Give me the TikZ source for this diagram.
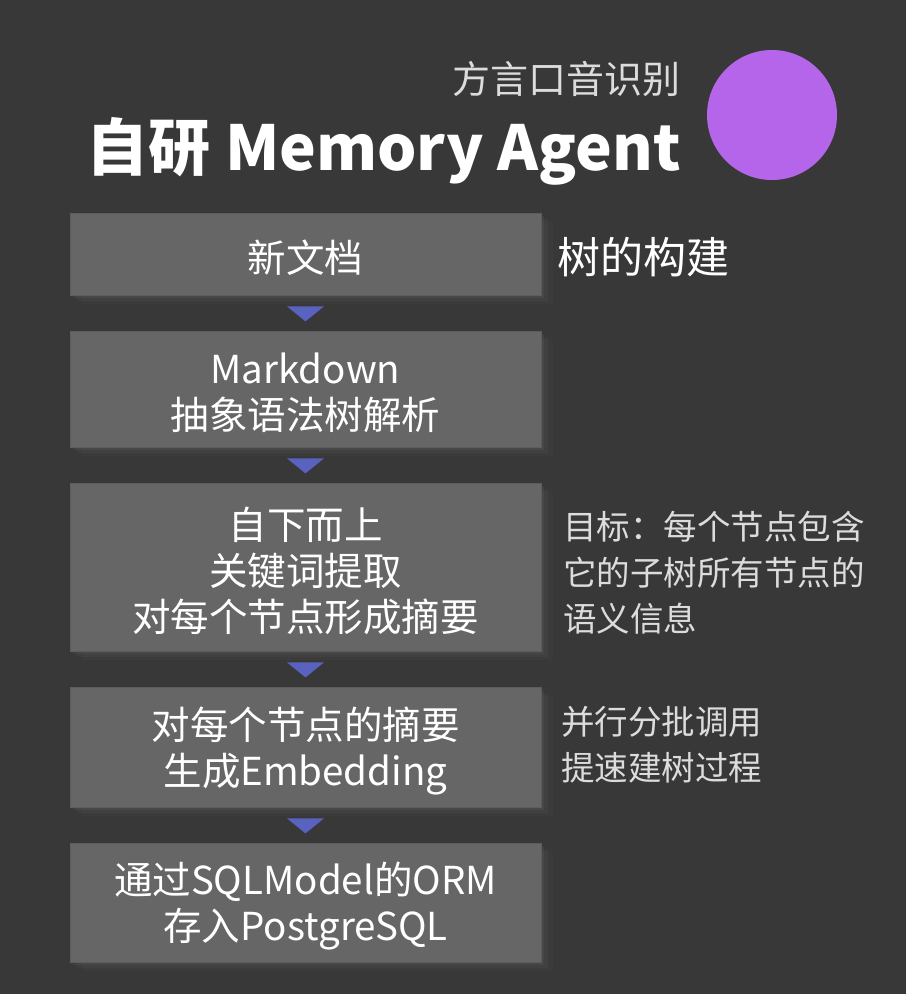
\documentclass[tikz,border=0pt]{standalone}
\usepackage{fontspec}
\setmainfont{Noto Sans CJK SC}
\usepackage{tikz}
\usetikzlibrary{shadows}
\definecolor{bgcol}{HTML}{383838}
\definecolor{boxcol}{HTML}{666666}
\definecolor{boxedge}{HTML}{5C5C5C}
\definecolor{tricol}{HTML}{5A62C0}
\definecolor{dotcol}{HTML}{B565EA}
\definecolor{notecol}{HTML}{DCDCDC}
\tikzstyle{stage} = [fill=boxcol,draw=boxedge,line width=0.8pt,minimum width=471pt,inner sep=0pt,
  drop shadow={opacity=0.05,shadow xshift=12pt,shadow yshift=-9pt},
  drop shadow={opacity=0.08,shadow xshift=7pt,shadow yshift=-6pt},
  drop shadow={opacity=0.12,shadow xshift=3pt,shadow yshift=-3pt}]
\tikzstyle{stagetext} = [text=white,align=center,inner sep=0pt,font=\fontsize{38.5}{46}\selectfont]
\tikzstyle{note} = [text=notecol,anchor=west,align=left,inner sep=0pt,font=\fontsize{33.5}{46}\selectfont]
\tikzstyle{tri} = [fill=tricol]

\begin{document}
\begin{tikzpicture}[x=1pt,y=-1pt]

\fill[bgcol] (0,0) rectangle (906,994);
\useasboundingbox (0,0) rectangle (906,994);

\node[circle,fill=dotcol,minimum size=130pt,inner sep=0pt] (dot) at (772,115) {};
\node[anchor=base east,text=notecol,inner sep=0pt,font=\fontsize{38}{38}\selectfont] (sub) at (681,93) {方言口音识别};
\node[anchor=base east,text=white,inner sep=0pt,font=\fontsize{62}{62}\selectfont\bfseries] (title) at (681,170) {自研 Memory Agent};

\node[stage,minimum height=82pt] (s1) at (305.5,254) {};
\node[stage,minimum height=116pt] (s2) at (305.5,389) {};
\node[stage,minimum height=168pt] (s3) at (305.5,567) {};
\node[stage,minimum height=120pt] (s4) at (305.5,747) {};
\node[stage,minimum height=119pt] (s5) at (305.5,902.5) {};

\node[stagetext] (t1) at ([yshift=-4pt]s1.center) {新文档};
\node[stagetext] (t2) at ([yshift=-4pt]s2.center) {Markdown\\抽象语法树解析};
\node[stagetext] (t3) at ([yshift=-4pt]s3.center) {自下而上\\关键词提取\\对每个节点形成摘要};
\node[stagetext] (t4) at ([yshift=-4pt]s4.center) {对每个节点的摘要\\生成Embedding};
\node[stagetext] (t5) at ([yshift=-4pt]s5.center) {通过SQLModel的ORM\\存入PostgreSQL};

\node[anchor=west,text=white,inner sep=0pt,font=\fontsize{43}{43}\selectfont] (head) at (557,257) {树的构建};
\node[note] (n1) at (563,573) {目标：每个节点包含\\它的子树所有节点的\\语义信息};
\node[note] (n2) at (561,745) {并行分批调用\\提速建树过程};

\foreach \a/\b in {s1/s2,s2/s3,s3/s4,s4/s5}
  \fill[tri] ([xshift=-18.5pt,yshift=-11pt]\a.south) -- ++(37,0) -- ++(-18.5,15) -- cycle;

\end{tikzpicture}
\end{document}
